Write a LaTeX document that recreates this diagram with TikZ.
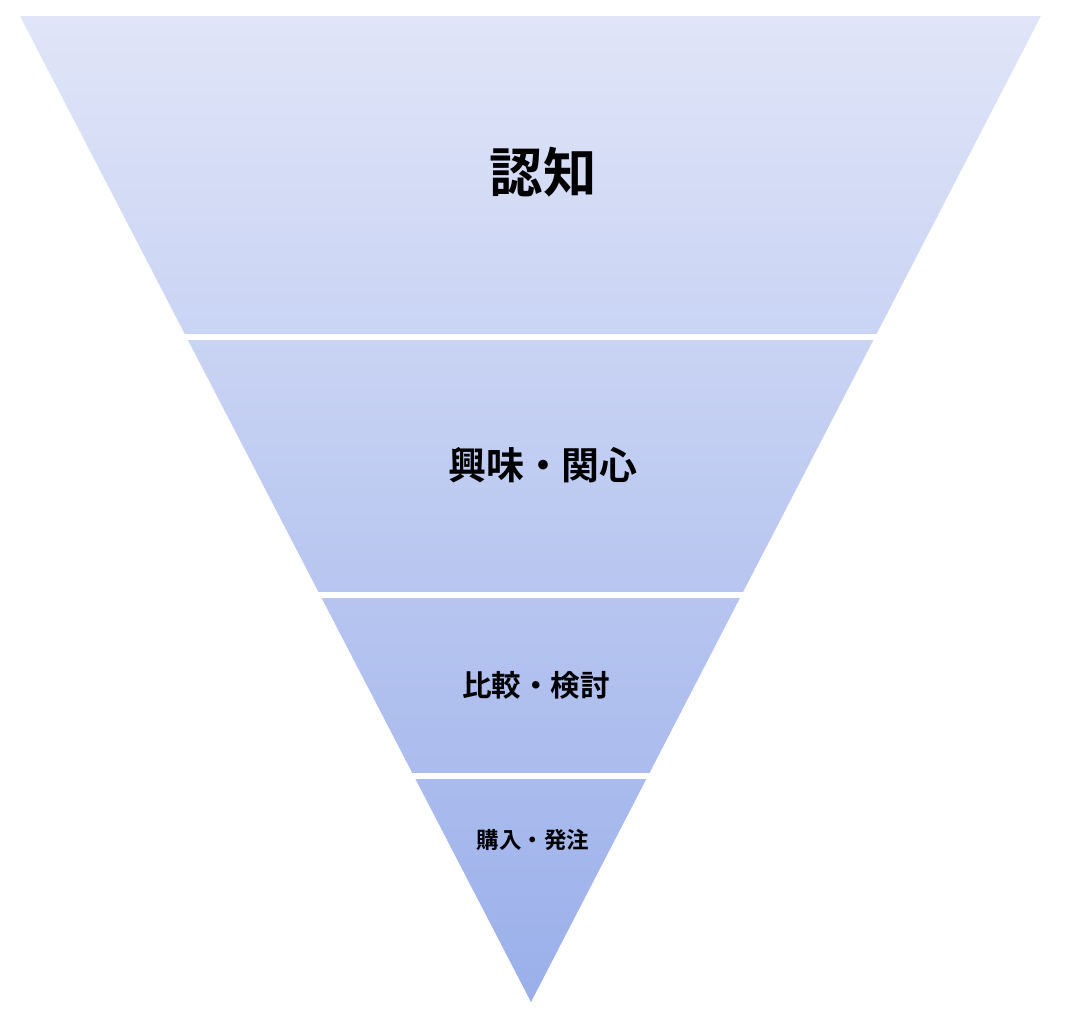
\documentclass[tikz,border=0pt]{standalone}
\usepackage{fontspec}
\newfontfamily\cjk{Noto Sans CJK JP}[BoldFont={Noto Sans CJK JP Bold}]
\definecolor{funneltop}{HTML}{E0E5F8}
\definecolor{funnelbot}{HTML}{9AAFEA}
\tikzset{
  gap/.style={fill=white,draw=none},
  stage/.style={font=\cjk\bfseries,inner sep=0pt}
}
\begin{document}
\begin{tikzpicture}[x=0.025cm,y=-0.025cm]
  \useasboundingbox (0,0) rectangle (1092,1022);
  % funnel body
  \shade[top color=funneltop,bottom color=funnelbot]
     (20,16) -- (1041,16) -- (531,1002) -- cycle;
  % white gaps between stages
  \fill[gap] (0,334) rectangle (1092,340);
  \fill[gap] (0,592) rectangle (1092,598);
  \fill[gap] (0,773) rectangle (1092,779);
  \node[stage,font=\cjk\bfseries\fontsize{38}{40}\selectfont] (s1) at (543,172) {認知};
  \node[stage,font=\cjk\bfseries\fontsize{27}{30}\selectfont] (s2) at (543,465) {興味・関心};
  \node[stage,font=\cjk\bfseries\fontsize{21}{24}\selectfont] (s3) at (536,685) {比較・検討};
  \node[stage,font=\cjk\bfseries\fontsize{16}{18}\selectfont] (s4) at (533,840) {購入・発注};
\end{tikzpicture}
\end{document}
